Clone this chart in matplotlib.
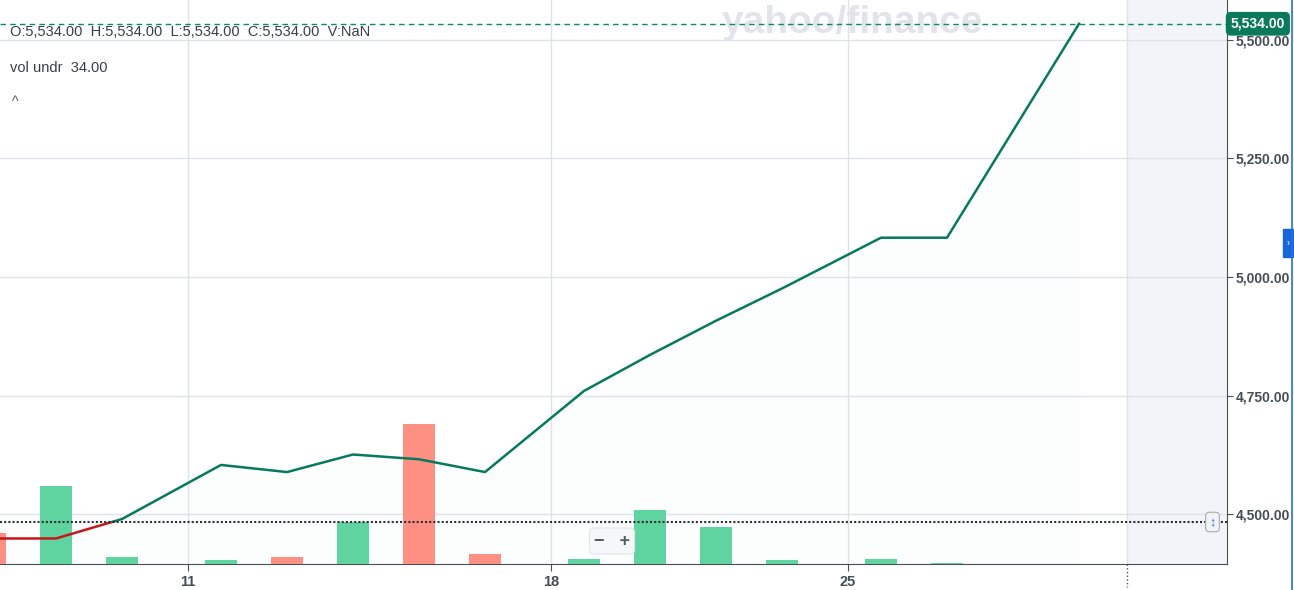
import matplotlib
matplotlib.use("Agg")
import matplotlib.pyplot as plt
import numpy as np
from matplotlib.patches import Rectangle
from matplotlib.lines import Line2D

plt.rcParams["font.family"] = ["Liberation Sans", "DejaVu Sans"]

# Data (x = trading slot, 0 = start of the 11th)
slots = [-3.0, -2.0, -1.0, 0.5, 1.5, 2.5, 3.5, 4.5, 6.0, 7.0, 8.0, 9.0, 10.5, 11.5, 13.5]
close = [4449, 4449, 4490, 4604, 4589, 4626, 4616, 4589, 4760, 4836, 4908, 4976,
         5083, 5083, 5534]
volume = [31, 78, 7, 4, 7, 42, 140, 10, 5, 54, 37, 4, 5, 1, np.nan]
prev_close = 4482.7
last_price = 5534
day_ticks = [0, 5.5, 10.0]
day_labels = ["11", "18", "25"]
price_ticks = [4500, 4750, 5000, 5250, 5500]
future_start = 14.23

W, H = 1294, 590
xmin, xmax = -188 / 66, 1039 / 66
ymin, ymax = 4395.2, 5584.1

GREEN = "#077a5c"
RED = "#c8161d"
AXIS = "#464e56"
GRID = "#dfe2e6"

fig = plt.figure(figsize=(W / 100, H / 100), dpi=100)
rect = [0, 26 / H, 1227 / W, 564 / H]
ax = fig.add_axes(rect)
ax_vol = fig.add_axes(rect, sharex=ax)
ax_top = fig.add_axes(rect, sharex=ax, sharey=ax)
for a in (ax_vol, ax_top):
    a.patch.set_visible(False)
    a.axis("off")

ax.set_xlim(xmin, xmax)
ax.set_ylim(ymin, ymax)
ax_vol.set_ylim(0, 564)

# background pieces
ax.axvspan(future_start, xmax, color="#f1f4f8", zorder=0)
ax.grid(True, color=GRID, lw=1)
ax.axvline(future_start, color=GRID, lw=1)
ax.fill_between(slots, close, ymin, color="#f3f5f8", alpha=0.2, lw=0)
ax.text(852 / W, 1 - 23 / H, "yahoo/finance", transform=fig.transFigure,
        ha="center", va="center", fontsize=28, fontweight="heavy", color="#e2e4e9")

for s in ("top", "left"):
    ax.spines[s].set_visible(False)
for s in ("bottom", "right"):
    ax.spines[s].set_color(AXIS)

ax.yaxis.tick_right()
ax.set_yticks(price_ticks, [f"{v:,.2f}" for v in price_ticks])
ax.tick_params(axis="y", length=4, color=AXIS, labelsize=10, labelcolor=AXIS, pad=2)
ax.set_xticks(day_ticks, day_labels)
ax.tick_params(axis="x", length=5, color=AXIS, labelsize=10.5, labelcolor=AXIS, pad=3)
for lbl in ax.get_xticklabels() + ax.get_yticklabels():
    lbl.set_fontweight("bold")
ax.plot([future_start] * 2, [0, -0.04], transform=ax.get_xaxis_transform(),
        clip_on=False, color=AXIS, lw=1, ls=":")

# volume bars
prev = [prev_close] + close[:-1]
bar_colors = ["#fe8f83" if c < p else "#5fd3a0" for c, p in zip(close, prev)]
ax_vol.bar(slots, volume, width=0.485, color=bar_colors)

# price line, red below the previous close, green above
up, = ax_top.plot(slots, close, color=GREEN, lw=1.8)
dn, = ax_top.plot(slots, close, color=RED, lw=1.8)
up.set_clip_path(Rectangle((xmin - 5, prev_close), 40, 5000, transform=ax_top.transData))
dn.set_clip_path(Rectangle((xmin - 5, prev_close - 5000), 40, 5000, transform=ax_top.transData))

ax_top.axhline(prev_close, color="#2d3136", lw=1.5, ls=(0, (1, 1)))
ax_top.axhline(last_price, color="#0c8a68", lw=1, ls=(0, (4, 3)))
ax_top.annotate(f"{last_price:,.2f}", xy=(1.003, last_price),
                xycoords=("axes fraction", "data"), ha="left", va="center",
                color="white", fontweight="bold", fontsize=10,
                bbox=dict(boxstyle="round,pad=0.35", fc="#0a7a5b", ec="none"),
                annotation_clip=False, zorder=5)

# overlay texts
fig.text(10 / W, 1 - 32 / H, "O:5,534.00  H:5,534.00  L:5,534.00  C:5,534.00  V:NaN",
         va="center", fontsize=10.5, color="#3a3f45")
fig.text(10 / W, 1 - 68 / H, "vol undr  34.00", va="center", fontsize=10.5, color="#3a3f45")
fig.text(12 / W, 1 - 102 / H, "^", va="center", fontsize=10, color="#555a60")
fig.text(1212.5 / W, 1 - 522 / H, "↕", ha="center", va="center", fontsize=9,
         color="#3f6fd0", bbox=dict(boxstyle="round,pad=0.3", fc="#f0f2f5",
                                    ec="#a9adb3", lw=0.8))
fig.text(612 / W, 1 - 541 / H, "−   +", ha="center", va="center", fontsize=13,
         fontweight="bold", color="#555a60",
         bbox=dict(boxstyle="round,pad=0.25", fc="#f6f7f8", ec="#e3e5e8", lw=0.8))

# right-hand blue edge and tab
fig.add_artist(Line2D([1291.5 / W] * 2, [0, 1], color="#1f6fe5", lw=1.2))
fig.add_artist(Rectangle((1283 / W, 1 - 257 / H), 10 / W, 28 / H, color="#1b65d8",
                         transform=fig.transFigure))
fig.text(1288 / W, 1 - 243 / H, "›", ha="center", va="center", fontsize=7, color="white")

fig.savefig("out.png", dpi=100)
